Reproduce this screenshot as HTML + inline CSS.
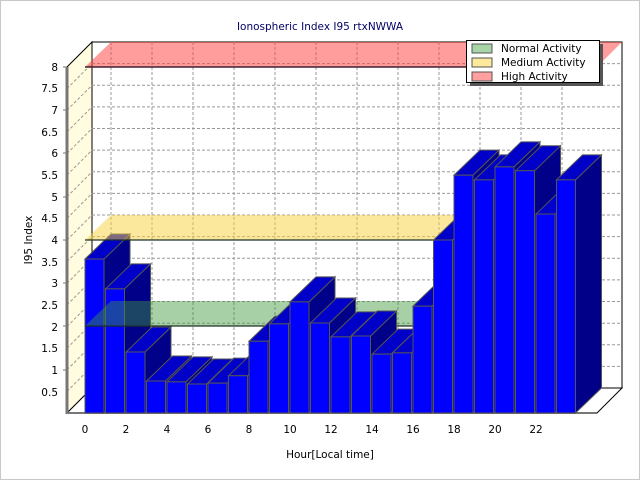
<!DOCTYPE html>
<html><head><meta charset="utf-8"><style>
html,body{margin:0;padding:0;background:#fff;}
svg{display:block;font-family:"DejaVu Sans","Liberation Sans",sans-serif;}
</style></head><body>
<svg width="640" height="480" viewBox="0 0 640 480" xmlns="http://www.w3.org/2000/svg">
<rect x="0.5" y="0.5" width="639" height="479" fill="#fff" stroke="#c8c8c8"/>
<text x="320" y="30" text-anchor="middle" font-size="10.5" fill="#000066">Ionospheric Index I95 rtxNWWA</text>
<rect x="92" y="42" width="530" height="346" fill="#fff" stroke="#000" stroke-width="1"/>
<polygon points="67,67 92,42 92,388 67,413" fill="#fffce0" stroke="#000" stroke-width="1"/>
<polygon points="67,413 92,388 622,388 597,413" fill="#fff" stroke="#000" stroke-width="1"/>
<g stroke="#999" stroke-width="1" stroke-dasharray="3,2">
<line x1="92" y1="63.6" x2="622" y2="63.6"/><line x1="92" y1="85.2" x2="622" y2="85.2"/><line x1="92" y1="106.9" x2="622" y2="106.9"/><line x1="92" y1="128.5" x2="622" y2="128.5"/><line x1="92" y1="150.1" x2="622" y2="150.1"/><line x1="92" y1="171.8" x2="622" y2="171.8"/><line x1="92" y1="193.4" x2="622" y2="193.4"/><line x1="92" y1="215" x2="622" y2="215"/><line x1="92" y1="236.6" x2="622" y2="236.6"/><line x1="92" y1="258.3" x2="622" y2="258.3"/><line x1="92" y1="279.9" x2="622" y2="279.9"/><line x1="92" y1="301.5" x2="622" y2="301.5"/><line x1="92" y1="323.2" x2="622" y2="323.2"/><line x1="92" y1="344.8" x2="622" y2="344.8"/><line x1="92" y1="366.4" x2="622" y2="366.4"/>
<line x1="67" y1="88.6" x2="92" y2="63.6"/><line x1="67" y1="110.2" x2="92" y2="85.2"/><line x1="67" y1="131.9" x2="92" y2="106.9"/><line x1="67" y1="153.5" x2="92" y2="128.5"/><line x1="67" y1="175.1" x2="92" y2="150.1"/><line x1="67" y1="196.8" x2="92" y2="171.8"/><line x1="67" y1="218.4" x2="92" y2="193.4"/><line x1="67" y1="240" x2="92" y2="215"/><line x1="67" y1="261.6" x2="92" y2="236.6"/><line x1="67" y1="283.3" x2="92" y2="258.3"/><line x1="67" y1="304.9" x2="92" y2="279.9"/><line x1="67" y1="326.5" x2="92" y2="301.5"/><line x1="67" y1="348.2" x2="92" y2="323.2"/><line x1="67" y1="369.8" x2="92" y2="344.8"/><line x1="67" y1="391.4" x2="92" y2="366.4"/>
<line x1="111" y1="42" x2="111" y2="388"/><line x1="152" y1="42" x2="152" y2="388"/><line x1="193" y1="42" x2="193" y2="388"/><line x1="234" y1="42" x2="234" y2="388"/><line x1="275" y1="42" x2="275" y2="388"/><line x1="316" y1="42" x2="316" y2="388"/><line x1="357" y1="42" x2="357" y2="388"/><line x1="398" y1="42" x2="398" y2="388"/><line x1="439" y1="42" x2="439" y2="388"/><line x1="480" y1="42" x2="480" y2="388"/><line x1="521" y1="42" x2="521" y2="388"/><line x1="562" y1="42" x2="562" y2="388"/>
</g>
<polygon points="85,67 111,42 622,42 597,67" fill="rgba(255,60,60,0.5)"/>
<line x1="85" y1="67" x2="597" y2="67" stroke="#402030" stroke-width="1.5"/>
<line x1="67" y1="67" x2="67" y2="414" stroke="#777" stroke-width="3"/>
<line x1="67" y1="413" x2="597" y2="413" stroke="#777" stroke-width="2"/>
<g font-size="10.5" fill="#000" text-anchor="end">
<text x="58" y="71">8</text><text x="58" y="92">7.5</text><text x="58" y="114">7</text><text x="58" y="136">6.5</text><text x="58" y="157">6</text><text x="58" y="179">5.5</text><text x="58" y="201">5</text><text x="58" y="222">4.5</text><text x="58" y="244">4</text><text x="58" y="266">3.5</text><text x="58" y="287">3</text><text x="58" y="309">2.5</text><text x="58" y="331">2</text><text x="58" y="352">1.5</text><text x="58" y="374">1</text><text x="58" y="396">0.5</text>
</g>
<g stroke="#777"><line x1="63" y1="67" x2="67" y2="67"/><line x1="63" y1="110" x2="67" y2="110"/><line x1="63" y1="153" x2="67" y2="153"/><line x1="63" y1="197" x2="67" y2="197"/><line x1="63" y1="240" x2="67" y2="240"/><line x1="63" y1="283" x2="67" y2="283"/><line x1="63" y1="326" x2="67" y2="326"/><line x1="63" y1="370" x2="67" y2="370"/></g>
<g font-size="10.5" fill="#000" text-anchor="middle">
<text x="85" y="433">0</text><text x="126" y="433">2</text><text x="167" y="433">4</text><text x="208" y="433">6</text><text x="249" y="433">8</text><text x="290" y="433">10</text><text x="331" y="433">12</text><text x="372" y="433">14</text><text x="413" y="433">16</text><text x="454" y="433">18</text><text x="495" y="433">20</text><text x="536" y="433">22</text>
</g>
<text x="330" y="458" text-anchor="middle" font-size="10.5">Hour[Local time]</text>
<text transform="translate(32,240) rotate(-90)" text-anchor="middle" font-size="10.5">I95 Index</text>
<g id="bars1" stroke="#555" stroke-width="1"></g>
<g id="planes"></g>
<g id="bars2" stroke="#555" stroke-width="1"></g>
<rect x="470" y="44" width="133" height="42" fill="#555"/>
<rect x="466.5" y="40.5" width="133" height="42" fill="#fff" stroke="#000"/>
<rect x="472" y="44" width="20" height="9" fill="#a8d4a8" stroke="#555"/>
<rect x="472" y="58" width="20" height="9" fill="#fce99c" stroke="#555"/>
<rect x="472" y="72" width="20" height="9" fill="#ffa0a0" stroke="#555"/>
<g font-size="10.5" fill="#000"><text x="501" y="52">Normal Activity</text><text x="501" y="66">Medium Activity</text><text x="501" y="80">High Activity</text></g>
<script>
(function(){
var v=[3.56,2.87,1.41,0.74,0.72,0.67,0.69,0.86,1.66,2.06,2.57,2.08,1.76,1.78,1.36,1.39,2.47,4.0,5.5,5.39,5.69,5.6,4.6,5.39];
var NS="http://www.w3.org/2000/svg";
function poly(g,pts,fill){var p=document.createElementNS(NS,"polygon");p.setAttribute("points",pts);p.setAttribute("fill",fill);g.appendChild(p);}
function bar(g,i){var x=85+20.5*i,w=19,y=413-43.25*v[i],b=413,d=26,e=25;
poly(g,[x+w,y,x+w+d,y-e,x+w+d,b-e,x+w,b].join(","),"#000088");
poly(g,[x,y,x+d,y-e,x+w+d,y-e,x+w,y].join(","),"#0000c8");
poly(g,[x,y,x+w,y,x+w,b,x,b].join(","),"#0000ff");}
var g1=document.getElementById("bars1"),g2=document.getElementById("bars2"),gp=document.getElementById("planes");
for(var i=0;i<=2;i++)bar(g1,i);
for(var i=3;i<=23;i++)bar(g2,i);
poly(gp,"85,326 111,301 440,301 414,326","rgba(60,150,60,0.45)");
poly(gp,"85,240 111,215 481,215 455,240","rgba(250,210,60,0.5)");
var l1=document.createElementNS(NS,"path");l1.setAttribute("d","M85,326H414M85,240H455");l1.setAttribute("stroke","#203028");l1.setAttribute("stroke-width","1.3");gp.appendChild(l1);
})();
</script>
</svg>
</body></html>
